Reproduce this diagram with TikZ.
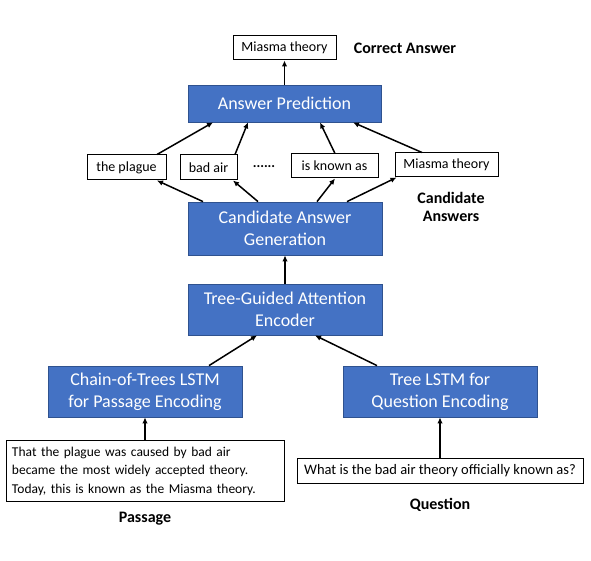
\documentclass[tikz,border=0pt]{standalone}
\usepackage{fontspec}
\setmainfont{Carlito}
\usetikzlibrary{calc,arrows.meta}

\definecolor{boxblue}{HTML}{4472C4}
\definecolor{boxedge}{HTML}{2F528F}

\begin{document}
\begin{tikzpicture}[x=1pt,y=-1pt,
    bluebox/.style={draw=boxedge, fill=boxblue, text=white, line width=0.8pt,
      minimum width=194pt, align=center, inner sep=0pt,
      font=\fontsize{18}{22}\selectfont},
    wordbox/.style={draw=black, fill=white, line width=1pt, inner sep=0pt,
      minimum height=25pt, font=\fontsize{14}{16}\selectfont},
    tag/.style={font=\fontsize{16}{18.5}\selectfont\bfseries, align=center},
    arr/.style={line width=1.5pt, -{Latex[length=6pt,width=5.5pt]}}]
    \useasboundingbox (0,0) rectangle (591,561);

    % answer at the top
    \node [wordbox, minimum width=103pt, minimum height=24pt] (correct) at (284.5,48) {Miasma theory};
    \node [tag] (lblcorrect) at (405,48) {Correct Answer};
    \node [bluebox, minimum width=193pt, minimum height=37pt] (pred) at (284.5,103.5) {Answer Prediction};

    % candidate answers
    \node [wordbox, minimum width=79pt] (cand1) at (126.5,167.5) {the plague};
    \node [wordbox, minimum width=57pt] (cand2) at (208.5,167.5) {bad air};
    \node [font=\fontsize{14}{16}\selectfont\bfseries] (dots) at (264,166.5) {......};
    \node [wordbox, minimum width=87pt, minimum height=24pt] (cand3) at (334.5,166) {is known as};
    \node [wordbox, minimum width=103pt, minimum height=24pt] (cand4) at (446.5,165) {Miasma theory};
    \node [tag] (lblcand) at (451,207) {Candidate\\Answers};

    % encoders
    \node [bluebox, minimum height=53pt] (cag) at (285,228.5) {Candidate Answer\\Generation};
    \node [bluebox, minimum height=51pt] (tga) at (285,309.5) {Tree-Guided Attention\\Encoder};
    \node [bluebox, minimum height=51pt] (chain) at (145,391.5) {Chain-of-Trees LSTM\\for Passage Encoding};
    \node [bluebox, minimum height=51pt] (tree) at (440,391.5) {Tree LSTM for\\Question Encoding};

    % inputs
    \node [draw=black, fill=white, line width=1pt, minimum width=278pt, minimum height=58pt,
      text width=266pt, align=left, inner sep=6pt, font=\fontsize{13.5}{18.5}\selectfont] (passage) at (145,471)
      {That the plague was caused by bad air\\became the most widely accepted theory.\\Today, this is known as the Miasma theory.};
    \node [wordbox, minimum width=286pt, font=\fontsize{14.5}{16}\selectfont] (question) at (440,470.5) {What is the bad air theory officially known as?};
    \node [tag] (lblpass) at (145,519) {Passage};
    \node [tag] (lblques) at (440,505) {Question};

    % connectors
    \draw [arr] (passage.north) -- (chain.south);
    \draw [arr] (question.north) -- (tree.south);
    \draw [arr] ([xshift=64pt]chain.north) -- ([xshift=-28pt]tga.south);
    \draw [arr] ([xshift=-63pt]tree.north) -- ([xshift=30pt]tga.south);
    \draw [arr] (tga.north) -- (cag.south);
    \draw [arr] ([xshift=-82pt]cag.north) -- ([xshift=30.5pt]cand1.south);
    \draw [arr] ([xshift=-27pt]cag.north) -- ([xshift=24.5pt]cand2.south);
    \draw [arr] ([xshift=32pt]cag.north) -- ([xshift=0.5pt]cand3.south);
    \draw [arr] ([xshift=62pt]cag.north) -- ([xshift=2pt]cand4.south west);
    \draw [arr] ([xshift=30.5pt]cand1.north) -- ([xshift=-71.5pt]pred.south);
    \draw [arr] ([xshift=26.5pt]cand2.north) -- ([xshift=-36.5pt]pred.south);
    \draw [arr] ([xshift=0.5pt]cand3.north) -- ([xshift=35.5pt]pred.south);
    \draw [arr] ([xshift=-24.5pt]cand4.north) -- ([xshift=68.5pt]pred.south);
    \draw [arr] (pred.north) -- (correct.south);
  \end{tikzpicture}
\end{document}
